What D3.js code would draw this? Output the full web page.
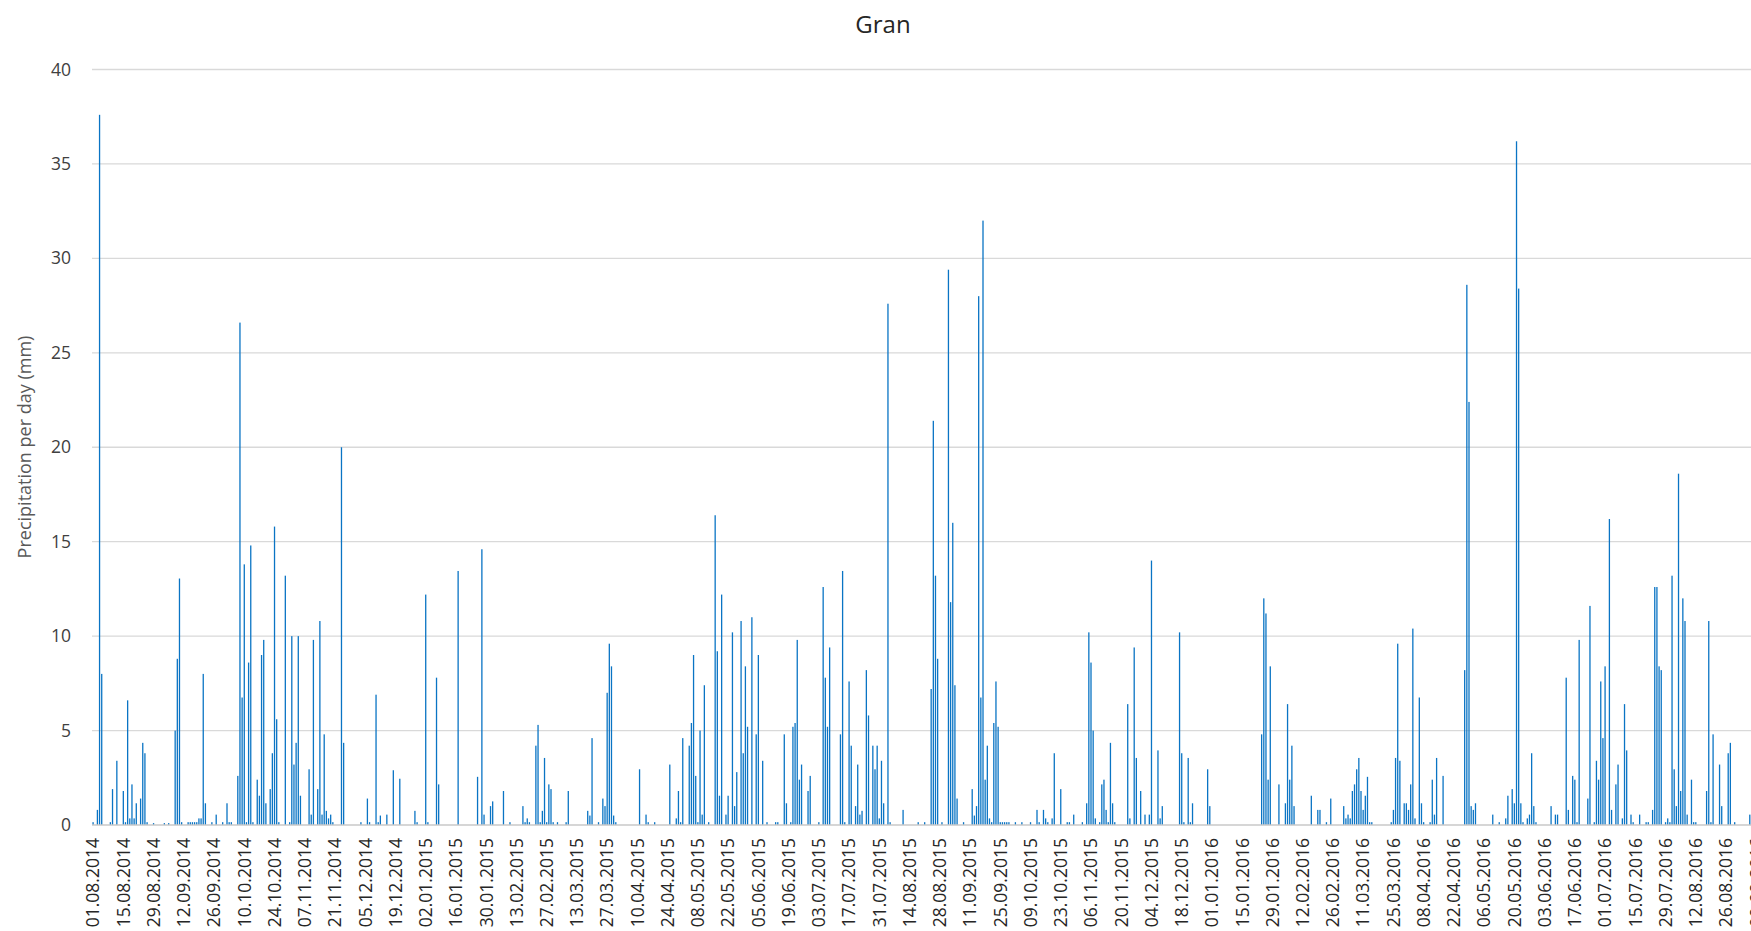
<!DOCTYPE html>
<html>
<head>
<meta charset="utf-8">
<script src="https://cdn.jsdelivr.net/npm/d3@7"></script>
<style>
  body { margin: 0; background: #fff; }
  svg { display: block; font-family: "Open Sans", "Noto Sans", sans-serif; }
</style>
</head>
<body>
<svg id="chart" width="1751" height="931"></svg>
<script>
// Daily precipitation at Gran, from 01.08.2014 onwards.
const chartTitle = "Gran";
const yAxisTitle = "Precipitation per day (mm)";
const dayCount = 773;          // number of daily categories on the axis
const tickEvery = 14;          // one date label every 14 days

const tickLabels = [
  "01.08.2014","15.08.2014","29.08.2014","12.09.2014","26.09.2014","10.10.2014","24.10.2014",
  "07.11.2014","21.11.2014","05.12.2014","19.12.2014","02.01.2015","16.01.2015","30.01.2015",
  "13.02.2015","27.02.2015","13.03.2015","27.03.2015","10.04.2015","24.04.2015","08.05.2015",
  "22.05.2015","05.06.2015","19.06.2015","03.07.2015","17.07.2015","31.07.2015","14.08.2015",
  "28.08.2015","11.09.2015","25.09.2015","09.10.2015","23.10.2015","06.11.2015","20.11.2015",
  "04.12.2015","18.12.2015","01.01.2016","15.01.2016","29.01.2016","12.02.2016","26.02.2016",
  "11.03.2016","25.03.2016","08.04.2016","22.04.2016","06.05.2016","20.05.2016","03.06.2016",
  "17.06.2016","01.07.2016","15.07.2016","29.07.2016","12.08.2016","26.08.2016","09.09.2016"
];

const yTicks = [0, 5, 10, 15, 20, 25, 30, 35, 40];

// Days with precipitation: day number counted from 01.08.2014, and amount in mm.
const rainDay = [
  0,2,3,4,8,9,11,14,15,16,17,18,19,20,22,23,24,25,28,33,35,38,39,40,41,44,45,46,47,48,49,50,51,52,55,57,60,62,63,64,
  67,68,69,70,71,72,73,74,76,77,78,79,80,82,83,84,85,86,89,91,92,93,94,95,96,100,101,102,104,105,106,107,108,109,110,111,
  115,116,124,127,128,131,132,133,136,139,142,149,150,154,155,159,160,169,178,180,181,184,185,190,193,199,200,201,202,
  205,206,207,208,209,210,211,212,213,215,219,220,229,230,231,234,236,237,238,239,240,241,242,253,256,257,260,267,270,
  271,272,273,276,277,278,279,280,281,282,283,285,288,289,290,291,293,294,296,297,298,300,301,302,303,305,307,308,310,
  312,316,317,320,321,323,324,325,326,327,328,331,332,336,338,339,340,341,346,347,348,350,351,353,354,355,356,358,359,
  361,362,363,364,365,366,368,369,375,382,385,388,389,390,391,393,396,397,398,399,400,403,407,408,409,410,411,412,413,
  414,415,416,417,418,419,420,421,422,423,424,427,430,434,437,438,440,441,442,444,445,448,451,452,454,458,460,461,462,
  463,464,466,467,468,469,470,471,472,473,479,480,482,483,485,487,489,490,493,494,495,503,504,505,507,508,509,516,517,
  541,542,543,544,545,549,552,553,554,555,556,564,567,568,571,573,579,580,581,582,583,584,585,586,587,588,589,590,591,
  592,601,602,603,604,605,607,608,609,610,611,612,614,615,616,619,620,621,622,625,635,636,637,638,639,640,648,651,654,
  655,657,658,659,660,661,662,664,665,666,667,668,675,677,678,682,683,685,686,687,688,692,693,695,696,697,698,699,700,
  702,703,705,706,708,709,710,712,713,716,719,720,722,723,724,725,726,728,729,730,731,732,733,734,735,736,737,738,740,
  741,742,747,748,749,750,753,754,757,758,760,767
];
const rainMm = [
  0.15,0.8,37.6,8.0,0.15,1.9,3.4,1.8,0.15,6.6,0.35,2.15,0.35,1.15,1.4,4.35,3.8,0.15,0.1,0.1,0.1,5.0,8.8,13.05,0.15,0.15,0.15,0.15,0.15,0.15,0.35,0.35,8.0,1.15,0.15,0.55,0.15,1.15,0.15,0.15,
  2.6,26.6,6.75,13.8,0.15,8.6,14.8,0.15,2.4,1.55,9.0,9.8,1.15,1.9,3.8,15.8,5.6,0.15,13.2,0.15,10.0,3.2,4.35,10.0,1.55,2.95,0.55,9.8,1.9,10.8,0.55,4.8,0.75,0.35,0.55,0.15,
  20.0,4.35,0.15,1.4,0.15,6.9,0.15,0.5,0.55,2.9,2.45,0.75,0.15,12.2,0.15,7.8,2.15,13.45,2.55,14.6,0.55,1.0,1.25,1.8,0.15,1.0,0.15,0.35,0.15,
  4.2,5.3,0.15,0.75,3.55,0.15,2.15,1.9,0.15,0.15,0.15,1.8,0.75,0.5,4.6,0.15,1.4,1.0,7.0,9.6,8.4,0.5,0.15,2.95,0.55,0.15,0.15,3.2,0.35,
  1.8,0.15,4.6,4.2,5.4,9.0,2.6,0.15,5.0,0.55,7.4,0.15,16.4,9.2,1.55,12.2,0.55,1.55,10.2,1.0,2.8,10.8,3.8,8.4,5.2,11.0,4.8,9.0,3.4,
  0.15,0.15,0.15,4.8,1.15,0.15,5.2,5.4,9.8,2.4,3.2,1.8,2.6,0.15,12.6,7.8,5.2,9.4,4.8,13.45,0.15,7.6,4.2,1.0,3.2,0.55,0.75,8.2,5.8,
  4.2,2.95,4.2,0.35,3.4,1.15,27.6,0.15,0.8,0.15,0.15,7.2,21.4,13.2,8.8,0.15,29.4,11.8,16.0,7.4,1.4,0.15,1.9,0.5,1.0,28.0,6.75,32.0,2.4,
  4.2,0.35,0.15,5.4,7.6,5.2,0.15,0.15,0.15,0.15,0.15,0.15,0.15,0.15,0.8,0.15,0.8,0.35,0.15,0.35,3.8,1.9,0.15,0.15,0.55,0.15,1.15,10.2,8.6,
  5.0,0.35,0.15,2.15,2.4,0.8,0.15,4.35,1.15,0.15,6.4,0.35,9.4,3.55,1.8,0.55,0.55,14.0,3.95,0.35,1.0,10.2,3.8,0.15,3.55,0.15,1.15,2.95,1.0,
  4.8,12.0,11.2,2.4,8.4,2.15,1.15,6.4,2.4,4.2,1.0,1.55,0.8,0.8,0.15,1.4,1.0,0.35,0.55,0.35,1.8,2.15,2.95,3.55,1.8,0.8,1.55,2.55,0.15,
  0.15,0.15,0.8,3.55,9.6,3.4,1.15,1.15,0.8,2.15,10.4,0.35,6.75,1.15,0.15,0.15,2.4,0.55,3.55,2.6,8.2,28.6,22.4,1.0,0.8,1.15,0.55,0.15,0.35,
  1.55,1.9,1.15,36.2,28.4,1.15,0.15,0.35,0.55,3.8,1.0,0.15,1.0,0.55,0.55,7.8,0.8,2.6,2.4,0.15,9.8,1.4,11.6,0.15,3.4,2.4,7.6,4.6,8.4,
  16.2,0.8,2.15,3.2,0.35,6.4,3.95,0.55,0.15,0.55,0.15,0.15,0.8,12.6,12.6,8.4,8.2,0.15,0.35,0.15,13.2,2.95,1.0,18.6,1.8,12.0,10.8,0.55,2.4,
  0.15,0.15,1.8,10.8,0.15,4.8,3.2,1.0,3.8,4.35,0.15,0.55
];

const W = 1751, H = 931;
const plotLeft = 92, plotTop = 69.5, plotBottom = 825;
const dayWidth = 2.16;

const svg = d3.select("#chart");

const categories = d3.range(dayCount);
const x = d3.scaleBand()
  .domain(categories)
  .range([plotLeft, plotLeft + dayCount * dayWidth])
  .paddingInner(0.4)
  .paddingOuter(0.2);

const y = d3.scaleLinear().domain([0, 40]).range([plotBottom, plotTop]);

// Horizontal gridlines
svg.append("g")
  .selectAll("line")
  .data(yTicks.filter(t => t > 0))
  .join("line")
  .attr("x1", plotLeft).attr("x2", W)
  .attr("y1", d => y(d)).attr("y2", d => y(d))
  .attr("stroke", "#d9d9d9")
  .attr("stroke-width", 1.3);

// Y axis labels
const yAxis = d3.axisLeft(y).tickValues(yTicks).tickSize(0).tickPadding(0);
const yG = svg.append("g").attr("transform", `translate(71,0)`).call(yAxis);
yG.select(".domain").remove();
yG.selectAll("text")
  .attr("font-family", "Open Sans, Noto Sans, sans-serif")
  .attr("font-size", 17.5)
  .attr("fill", "#404040");

// Bars
const rain = rainDay.map((d, i) => ({ day: d, mm: rainMm[i] }));
svg.append("g")
  .selectAll("rect")
  .data(rain)
  .join("rect")
  .attr("x", d => x(d.day))
  .attr("width", x.bandwidth())
  .attr("y", d => y(d.mm))
  .attr("height", d => y(0) - y(d.mm))
  .attr("fill", "#0a74c4");

// Baseline
svg.append("line")
  .attr("x1", plotLeft).attr("x2", W)
  .attr("y1", y(0)).attr("y2", y(0))
  .attr("stroke", "#c8c8c8")
  .attr("stroke-width", 1.5);

// X axis with rotated date labels
const tickDays = tickLabels.map((_, i) => i * tickEvery);
const xAxis = d3.axisBottom(x)
  .tickValues(tickDays)
  .tickFormat(d => tickLabels[d / tickEvery])
  .tickSize(0);
const xG = svg.append("g").attr("transform", `translate(0,${plotBottom})`).call(xAxis);
xG.select(".domain").remove();
xG.selectAll("text")
  .attr("transform", "rotate(-90)")
  .attr("x", -13)
  .attr("y", 0)
  .attr("dy", "0.36em")
  .style("text-anchor", "end")
  .attr("font-family", "Open Sans, Noto Sans, sans-serif")
  .attr("font-size", 17.5)
  .attr("fill", "#262626");

// Title
svg.append("text")
  .attr("x", 883).attr("y", 33)
  .attr("text-anchor", "middle")
  .attr("font-size", 24)
  .attr("fill", "#262626")
  .text(chartTitle);

// Y axis title
svg.append("text")
  .attr("transform", `translate(25,447) rotate(-90)`)
  .attr("text-anchor", "middle")
  .attr("dy", "0.35em")
  .attr("font-size", 18)
  .attr("fill", "#595959")
  .text(yAxisTitle);
</script>
</body>
</html>
